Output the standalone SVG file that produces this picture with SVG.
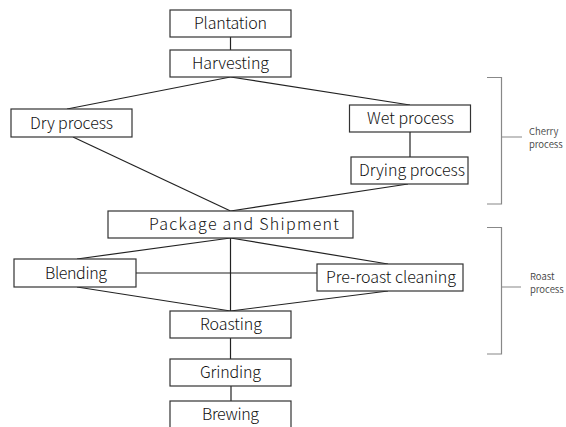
<svg xmlns="http://www.w3.org/2000/svg" width="566" height="427" viewBox="0 0 566 427">
<style>
.box rect{fill:#fff;stroke:#333;stroke-width:1.2}
.box text{font-family:"Noto Sans CJK JP","Noto Sans",sans-serif;font-size:16px;font-weight:300;fill:#111;text-anchor:middle}
.conn line{stroke:#222;stroke-width:1.2}
.br{stroke:#888;stroke-width:1.2;fill:none}
.lbl{font-family:"Noto Sans CJK JP","Noto Sans",sans-serif;font-size:9.5px;font-weight:350;fill:#444}
</style>
<rect width="566" height="427" fill="#fff"/>
<g class="conn" id="connectors">
<line x1="230.5" y1="37" x2="230.5" y2="50"/>
<line x1="230.5" y1="77" x2="67" y2="109"/>
<line x1="230.5" y1="77" x2="410" y2="105"/>
<line x1="73" y1="137" x2="230.5" y2="211"/>
<line x1="410" y1="132" x2="410" y2="157"/>
<line x1="408" y1="184" x2="230.5" y2="211"/>
<line x1="230.5" y1="238" x2="77" y2="259"/>
<line x1="230.5" y1="238" x2="388" y2="264"/>
<line x1="230.5" y1="238" x2="230.5" y2="311"/>
<line x1="136" y1="273" x2="317" y2="273"/>
<line x1="77" y1="287" x2="230.5" y2="311"/>
<line x1="388" y1="291" x2="230.5" y2="311"/>
<line x1="230.5" y1="338" x2="230.5" y2="359"/>
<line x1="231" y1="386" x2="231" y2="401"/>
</g>
<g class="box" id="plantation"><rect x="170" y="10" width="121" height="27"/><text x="230.5" y="29" textLength="73" lengthAdjust="spacing">Plantation</text></g>
<g class="box" id="harvesting"><rect x="170" y="50" width="121" height="27"/><text x="230.5" y="69" textLength="77" lengthAdjust="spacing">Harvesting</text></g>
<g class="box" id="dry"><rect x="11" y="109" width="121" height="28"/><text x="71.5" y="128.5" textLength="83" lengthAdjust="spacing">Dry process</text></g>
<g class="box" id="wet"><rect x="349.5" y="105" width="121" height="27"/><text x="410.5" y="124" textLength="87" lengthAdjust="spacing">Wet process</text></g>
<g class="box" id="drying"><rect x="351" y="157" width="117" height="27"/><text x="412" y="176" textLength="106" lengthAdjust="spacing">Drying process</text></g>
<g class="box" id="package"><rect x="108" y="211" width="245" height="27"/><text x="244" y="230" textLength="190" lengthAdjust="spacing">Package and Shipment</text></g>
<g class="box" id="blending"><rect x="14" y="259" width="122" height="28"/><text x="76" y="278.5" textLength="62" lengthAdjust="spacing">Blending</text></g>
<g class="box" id="preroast"><rect x="317" y="264" width="146" height="27"/><text x="391" y="283" textLength="130" lengthAdjust="spacing">Pre-roast cleaning</text></g>
<g class="box" id="roasting"><rect x="170" y="311" width="121" height="27"/><text x="231" y="330" textLength="62" lengthAdjust="spacing">Roasting</text></g>
<g class="box" id="grinding"><rect x="170" y="359" width="121" height="27"/><text x="230.5" y="378" textLength="61" lengthAdjust="spacing">Grinding</text></g>
<g class="box" id="brewing"><rect x="170" y="401" width="121" height="27"/><text x="230.5" y="420" textLength="57" lengthAdjust="spacing">Brewing</text></g>
<g id="cherry-bracket">
<path class="br" d="M487 77.5H501.5V204H487M501.5 137H522"/>
<text class="lbl" x="529" y="135">Cherry</text>
<text class="lbl" x="529" y="148">process</text>
</g>
<g id="roast-bracket">
<path class="br" d="M487 227.5H501.5V354H487M501.5 287H521"/>
<text class="lbl" x="530" y="280">Roast</text>
<text class="lbl" x="530" y="293">process</text>
</g>
</svg>
